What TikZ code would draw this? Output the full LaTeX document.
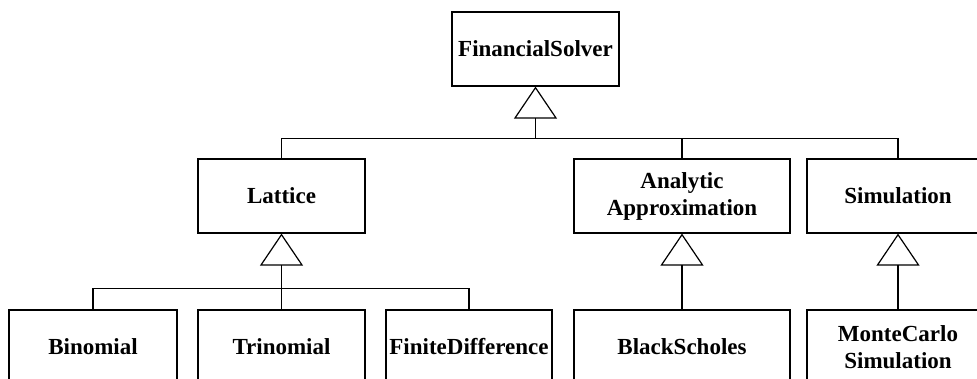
\documentclass[tikz,border=0pt]{standalone}
\usepackage{fontspec}
\setmainfont{Liberation Serif}
\usetikzlibrary{arrows.meta}

\begin{document}
\begin{tikzpicture}[x=0.5pt,y=-0.5pt,
  classbox/.style={draw,line width=0.6pt,minimum height=37pt,inner sep=0pt,
    align=center,font=\fontsize{11.5}{13.5}\selectfont\bfseries},
  link/.style={line width=0.6pt},
  inherit/.style={line width=0.6pt,-{Triangle[open,width=21.5pt,length=16pt]}}]
\useasboundingbox (0,0) rectangle (977,379);
\node[classbox,minimum width=83.5pt] (solver) at (535.5,49) {FinancialSolver};
\node[classbox,minimum width=83.5pt] (lattice) at (281.5,196) {Lattice};
\node[classbox,minimum width=108pt] (analytic) at (682,196) {Analytic\\Approximation};
\node[classbox,minimum width=91pt] (simulation) at (898,196) {Simulation};
\node[classbox,minimum width=84pt] (binomial) at (93,347) {Binomial};
\node[classbox,minimum width=83.5pt] (trinomial) at (281.5,347) {Trinomial};
\node[classbox,minimum width=83pt] (finite) at (469,347) {FiniteDifference};
\node[classbox,minimum width=108pt] (blackscholes) at (682,347) {BlackScholes};
\node[classbox,minimum width=91pt] (montecarlo) at (898,347) {MonteCarlo\\Simulation};
\coordinate (solverbus) at ([yshift=-26pt]solver.south);
\coordinate (latticebus) at ([yshift=-27.5pt]lattice.south);
\draw[inherit] (lattice.north) |- (solverbus) -- (solver.south);
\draw[link] (analytic.north) |- (solverbus);
\draw[link] (simulation.north) |- (solverbus);
\draw[inherit] (trinomial.north) -- (lattice.south);
\draw[link] (binomial.north) |- (latticebus);
\draw[link] (finite.north) |- (latticebus);
\draw[inherit] (blackscholes.north) -- (analytic.south);
\draw[inherit] (montecarlo.north) -- (simulation.south);
\end{tikzpicture}
\end{document}
